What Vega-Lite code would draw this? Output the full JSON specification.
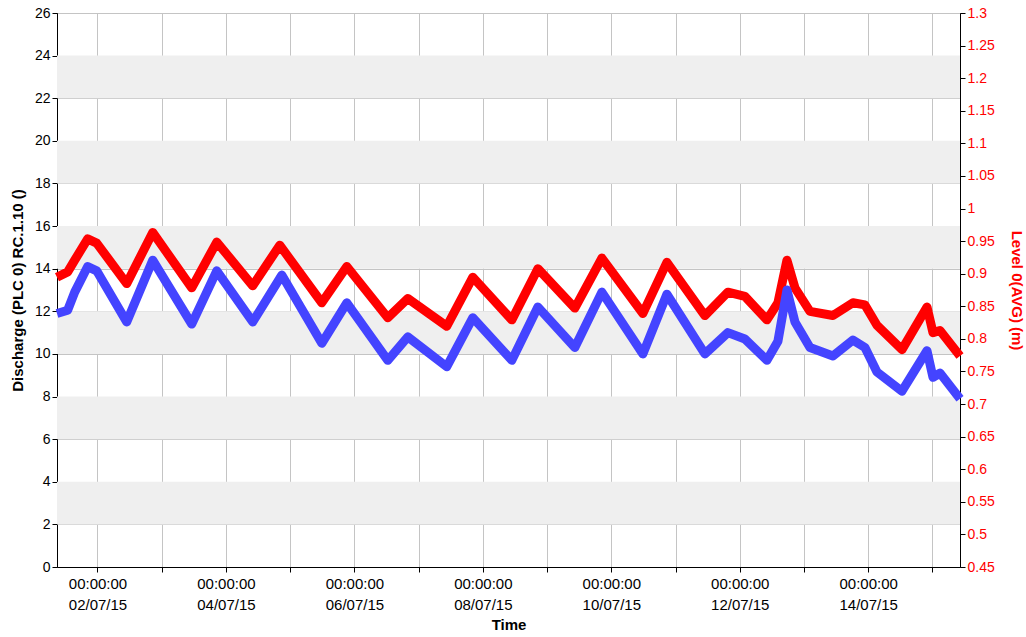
{
  "$schema": "https://vega.github.io/schema/vega-lite/v6.json",
  "width": 903,
  "height": 554,
  "autosize": "none",
  "padding": {"left": 57, "top": 13, "right": 66, "bottom": 70},
  "background": "white",
  "config": {
    "view": {"stroke": "#000000", "strokeWidth": 1},
    "font": "Liberation Sans",
    "axis": {"labelFont": "Liberation Sans", "titleFont": "Liberation Sans", "labelFontSize": 14, "titleFontSize": 15, "titleFontWeight": "bold", "domainColor": "#000000", "tickColor": "#000000", "tickSize": 5, "gridColor": "#c4c4c4", "gridWidth": 1, "labelColor": "#000000", "titleColor": "#000000"}
  },
  "datasets": {
    "bands": [
      {"lo": 2, "hi": 4}, {"lo": 6, "hi": 8}, {"lo": 10, "hi": 12},
      {"lo": 14, "hi": 16}, {"lo": 18, "hi": 20}, {"lo": 22, "hi": 24}
    ],
    "discharge": [
      {"t": "2015-07-01T08:52", "v": 11.9},
      {"t": "2015-07-01T12:52", "v": 12.05},
      {"t": "2015-07-01T15:29", "v": 12.9},
      {"t": "2015-07-01T20:20", "v": 14.1},
      {"t": "2015-07-01T23:42", "v": 13.9},
      {"t": "2015-07-02T10:55", "v": 11.5},
      {"t": "2015-07-02T20:38", "v": 14.4},
      {"t": "2015-07-03T11:13", "v": 11.4},
      {"t": "2015-07-03T20:34", "v": 13.9},
      {"t": "2015-07-04T10:01", "v": 11.5},
      {"t": "2015-07-04T20:52", "v": 13.7},
      {"t": "2015-07-05T11:49", "v": 10.5},
      {"t": "2015-07-05T21:10", "v": 12.4},
      {"t": "2015-07-06T12:29", "v": 9.7},
      {"t": "2015-07-06T19:58", "v": 10.8},
      {"t": "2015-07-07T10:32", "v": 9.4},
      {"t": "2015-07-07T20:16", "v": 11.7},
      {"t": "2015-07-08T10:50", "v": 9.7},
      {"t": "2015-07-08T20:34", "v": 12.2},
      {"t": "2015-07-09T10:23", "v": 10.3},
      {"t": "2015-07-09T20:29", "v": 12.9},
      {"t": "2015-07-10T11:49", "v": 10.0},
      {"t": "2015-07-10T20:47", "v": 12.8},
      {"t": "2015-07-11T10:59", "v": 10.0},
      {"t": "2015-07-11T19:35", "v": 11.0},
      {"t": "2015-07-12T01:56", "v": 10.7},
      {"t": "2015-07-12T10:10", "v": 9.7},
      {"t": "2015-07-12T14:17", "v": 10.6},
      {"t": "2015-07-12T17:39", "v": 13.0},
      {"t": "2015-07-12T20:38", "v": 11.5},
      {"t": "2015-07-13T02:15", "v": 10.3},
      {"t": "2015-07-13T10:50", "v": 9.9},
      {"t": "2015-07-13T18:19", "v": 10.65},
      {"t": "2015-07-13T22:48", "v": 10.3},
      {"t": "2015-07-14T03:17", "v": 9.15},
      {"t": "2015-07-14T12:38", "v": 8.25},
      {"t": "2015-07-14T21:59", "v": 10.15},
      {"t": "2015-07-15T00:13", "v": 8.9},
      {"t": "2015-07-15T02:50", "v": 9.1},
      {"t": "2015-07-15T10:19", "v": 7.9}
    ],
    "level": [
      {"t": "2015-07-01T08:52", "v": 0.8946},
      {"t": "2015-07-01T12:52", "v": 0.9028},
      {"t": "2015-07-01T15:29", "v": 0.9208},
      {"t": "2015-07-01T20:20", "v": 0.9535},
      {"t": "2015-07-01T23:42", "v": 0.947},
      {"t": "2015-07-02T10:55", "v": 0.8848},
      {"t": "2015-07-02T20:38", "v": 0.9633},
      {"t": "2015-07-03T11:13", "v": 0.8783},
      {"t": "2015-07-03T20:34", "v": 0.9485},
      {"t": "2015-07-04T10:01", "v": 0.8815},
      {"t": "2015-07-04T20:07", "v": 0.9437},
      {"t": "2015-07-05T11:49", "v": 0.8554},
      {"t": "2015-07-05T21:10", "v": 0.911},
      {"t": "2015-07-06T12:29", "v": 0.8325},
      {"t": "2015-07-06T19:58", "v": 0.8619},
      {"t": "2015-07-07T10:32", "v": 0.8194},
      {"t": "2015-07-07T20:16", "v": 0.8946},
      {"t": "2015-07-08T10:50", "v": 0.8292},
      {"t": "2015-07-08T20:34", "v": 0.9077},
      {"t": "2015-07-09T10:23", "v": 0.8472},
      {"t": "2015-07-09T20:29", "v": 0.924},
      {"t": "2015-07-10T11:49", "v": 0.839},
      {"t": "2015-07-10T20:47", "v": 0.9175},
      {"t": "2015-07-11T10:59", "v": 0.8358},
      {"t": "2015-07-11T19:35", "v": 0.8717},
      {"t": "2015-07-12T01:56", "v": 0.8652},
      {"t": "2015-07-12T10:10", "v": 0.8292},
      {"t": "2015-07-12T14:17", "v": 0.8554},
      {"t": "2015-07-12T17:39", "v": 0.9208},
      {"t": "2015-07-12T20:38", "v": 0.8783},
      {"t": "2015-07-13T02:15", "v": 0.8423},
      {"t": "2015-07-13T10:50", "v": 0.8358},
      {"t": "2015-07-13T18:19", "v": 0.8554},
      {"t": "2015-07-13T22:48", "v": 0.8521},
      {"t": "2015-07-14T03:17", "v": 0.821},
      {"t": "2015-07-14T12:38", "v": 0.7835},
      {"t": "2015-07-14T21:59", "v": 0.8488},
      {"t": "2015-07-15T00:13", "v": 0.8096},
      {"t": "2015-07-15T02:50", "v": 0.8129},
      {"t": "2015-07-15T10:19", "v": 0.7736}
    ]
  },
  "layer": [
    {
      "data": {"name": "bands"},
      "mark": {"type": "rect", "color": "#efefef"},
      "encoding": {
        "y": {"field": "lo", "type": "quantitative", "scale": {"domain": [0, 26], "nice": false, "zero": false}, "axis": null},
        "y2": {"field": "hi"}
      }
    },
    {
      "data": {"name": "level"},
      "mark": {"type": "line", "color": "#ff0000", "strokeWidth": 9, "strokeJoin": "round", "strokeCap": "butt"},
      "encoding": {
        "x": {"field": "t", "type": "temporal",
          "scale": {"domain": [{"year": 2015, "month": 7, "date": 1, "hours": 8, "minutes": 52}, {"year": 2015, "month": 7, "date": 15, "hours": 10, "minutes": 19}], "nice": false},
          "title": "Time",
          "axis": {
            "values": [
              {"year": 2015, "month": 7, "date": 2}, {"year": 2015, "month": 7, "date": 3},
              {"year": 2015, "month": 7, "date": 4}, {"year": 2015, "month": 7, "date": 5},
              {"year": 2015, "month": 7, "date": 6}, {"year": 2015, "month": 7, "date": 7},
              {"year": 2015, "month": 7, "date": 8}, {"year": 2015, "month": 7, "date": 9},
              {"year": 2015, "month": 7, "date": 10}, {"year": 2015, "month": 7, "date": 11},
              {"year": 2015, "month": 7, "date": 12}, {"year": 2015, "month": 7, "date": 13},
              {"year": 2015, "month": 7, "date": 14}, {"year": 2015, "month": 7, "date": 15}
            ],
            "labelExpr": "date(datum.value) % 2 == 0 ? [timeFormat(datum.value, '%H:%M:%S'), timeFormat(datum.value, '%d/%m/%y')] : ''",
            "labelFontSize": 15,
            "labelLineHeight": 21,
            "labelPadding": 4,
            "labelFlush": false,
            "labelOverlap": false,
            "grid": true,
            "titlePadding": 5
          }
        },
        "y": {"field": "v", "type": "quantitative",
          "scale": {"domain": [0.45, 1.3], "nice": false, "zero": false},
          "title": "Level 0(AVG) (m)",
          "axis": {
            "orient": "right",
            "values": [0.45, 0.5, 0.55, 0.6, 0.65, 0.7, 0.75, 0.8, 0.85, 0.9, 0.95, 1, 1.05, 1.1, 1.15, 1.2, 1.25, 1.3],
            "format": "~g",
            "grid": false,
            "labelColor": "#ff0000",
            "titleColor": "#ff0000",
            "labelPadding": 2,
            "titlePadding": 14
          }
        }
      }
    },
    {
      "data": {"name": "discharge"},
      "mark": {"type": "line", "color": "#4444ff", "strokeWidth": 9, "strokeJoin": "round", "strokeCap": "butt"},
      "encoding": {
        "x": {"field": "t", "type": "temporal"},
        "y": {"field": "v", "type": "quantitative",
          "scale": {"domain": [0, 26], "nice": false, "zero": false},
          "title": "Discharge (PLC 0) RC.1.10 ()",
          "axis": {
            "orient": "left",
            "values": [0, 2, 4, 6, 8, 10, 12, 14, 16, 18, 20, 22, 24, 26],
            "grid": true,
            "labelPadding": 2,
            "titlePadding": 9
          }
        }
      }
    }
  ],
  "resolve": {"scale": {"y": "independent"}}
}
